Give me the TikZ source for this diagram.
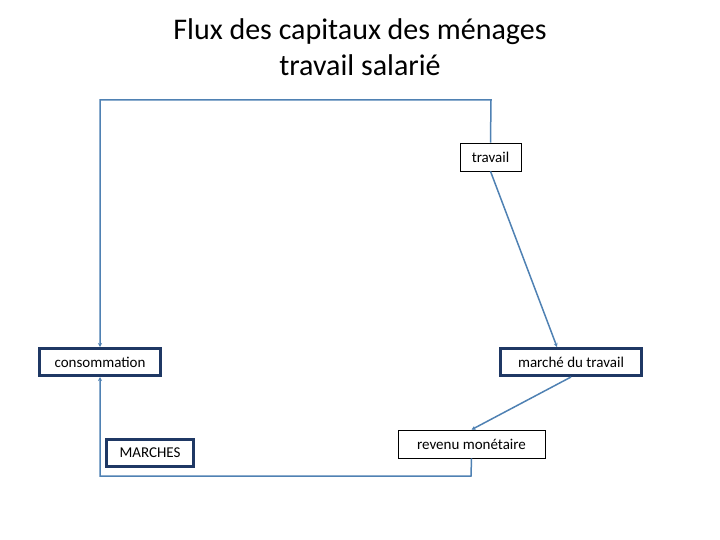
\documentclass[tikz,border=0pt]{standalone}
\usepackage{fontspec}
\setmainfont{Carlito}
\usetikzlibrary{arrows.meta}
\definecolor{ln}{RGB}{79,129,179}
\definecolor{bd}{RGB}{31,56,100}
\begin{document}
\begin{tikzpicture}[x=1pt,y=-1pt,
  thin box/.style={draw=black,line width=0.7pt,fill=white,inner sep=0pt,font=\fontsize{15}{17}\selectfont},
  thick box/.style={draw=bd,line width=3pt,fill=white,inner sep=0pt,font=\fontsize{15}{17}\selectfont},
  conn/.style={draw=ln,line width=1.5pt,-{Stealth[length=4pt,width=4pt]}}]
\useasboundingbox (0,0) rectangle (720,540);
\node[font=\fontsize{30}{36}\selectfont,align=center] (title) at (360,47) {Flux des capitaux des ménages\\travail salarié};
\node[thin box,minimum width=61,minimum height=28] (tr) at (490.5,157) {travail};
\node[thick box,minimum width=121,minimum height=27] (co) at (100,362) {consommation};
\node[thick box,minimum width=141,minimum height=27] (ma) at (571,362) {marché du travail};
\node[thick box,minimum width=87,minimum height=27] (mc) at (150,453) {MARCHES};
\node[thin box,minimum width=147,minimum height=28] (re) at (471.5,444) {revenu monétaire};
\coordinate (a1) at (491,100); \coordinate (a2) at (100,100);
\coordinate (b1) at (471,476); \coordinate (b2) at (100,476);
\draw[conn] (tr.north) -- (a1) -- (a2) -- (co.north);
\draw[conn] (tr.south) -- ([xshift=-14]ma.north);
\draw[conn] (ma.south) -- (re.north);
\draw[conn] (re.south) -- (b1) -- (b2) -- (co.south);
\end{tikzpicture}
\end{document}
